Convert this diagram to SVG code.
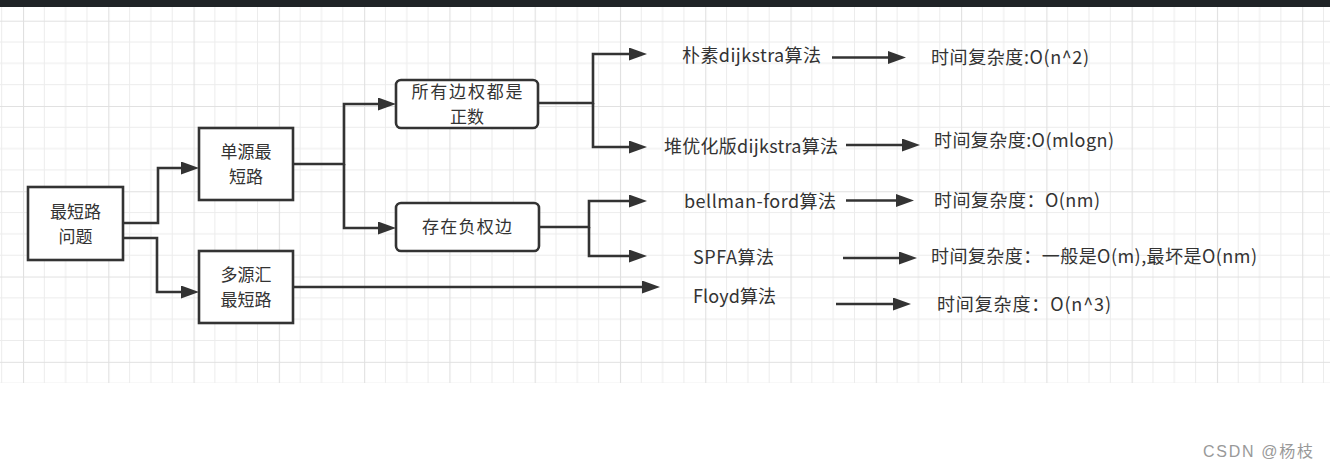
<svg xmlns="http://www.w3.org/2000/svg" width="1330" height="470" viewBox="0 0 1330 470">
<style>
.box{fill:#ffffff;stroke:#333333;stroke-width:2.6}
.t{font-family:"Noto Sans CJK SC","Liberation Sans",sans-serif;font-size:17px;fill:#333333;text-anchor:middle}
.l{font-family:"Noto Sans CJK SC","Liberation Sans",sans-serif;font-size:18px;fill:#333333;text-anchor:start}
.c{fill:none;stroke:#333333;stroke-width:2.6}
.mn{stroke:#ececec;stroke-width:1}
.mj{stroke:#e0e0e0;stroke-width:1.2}
</style>
<defs>
<marker id="ah" markerUnits="userSpaceOnUse" markerWidth="19" markerHeight="14" refX="0" refY="6.5" orient="auto">
<path d="M0,0 L18,6.5 L0,13 z" fill="#333333"/>
</marker>
<pattern id="grid" patternUnits="userSpaceOnUse" x="23" y="20.7" width="85.28" height="85.28">
<line class="mn" x1="21.32" y1="0" x2="21.32" y2="85.28"/>
<line class="mn" x1="42.64" y1="0" x2="42.64" y2="85.28"/>
<line class="mn" x1="63.96" y1="0" x2="63.96" y2="85.28"/>
<line class="mn" x1="0" y1="21.32" x2="85.28" y2="21.32"/>
<line class="mn" x1="0" y1="42.64" x2="85.28" y2="42.64"/>
<line class="mn" x1="0" y1="63.96" x2="85.28" y2="63.96"/>
<line class="mj" x1="0.5" y1="0" x2="0.5" y2="85.28"/>
<line class="mj" x1="0" y1="0.5" x2="85.28" y2="0.5"/>
</pattern>
</defs>
<rect x="0" y="0" width="1330" height="470" fill="#ffffff"/>
<rect x="0" y="7" width="1330" height="376" fill="url(#grid)"/>
<rect x="0" y="0" width="1330" height="7" fill="#1f2326"/>

<g id="connectors">
<path class="c" d="M123,223 H158 V168 H181" marker-end="url(#ah)"/>
<path class="c" d="M123,238 H157 V292 H181" marker-end="url(#ah)"/>
<path class="c" d="M293,164 H344 V104 H378" marker-end="url(#ah)"/>
<path class="c" d="M344,164 V228 H378" marker-end="url(#ah)"/>
<path class="c" d="M538,103 H593 V54 H629" marker-end="url(#ah)"/>
<path class="c" d="M593,103 V147 H629" marker-end="url(#ah)"/>
<path class="c" d="M530,227 H589 V201 H629" marker-end="url(#ah)"/>
<path class="c" d="M589,227 V256 H629" marker-end="url(#ah)"/>
<path class="c" d="M293,287 H642" marker-end="url(#ah)"/>
<path class="c" d="M832,57.5 H888" marker-end="url(#ah)"/>
<path class="c" d="M846,145 H902" marker-end="url(#ah)"/>
<path class="c" d="M846,200.5 H896" marker-end="url(#ah)"/>
<path class="c" d="M843,258 H899" marker-end="url(#ah)"/>
<path class="c" d="M836,304 H893" marker-end="url(#ah)"/>
</g>

<g id="n-root">
<rect class="box" x="28" y="187" width="95" height="73"/>
<text class="t" x="75.5" y="218">最短路</text>
<text class="t" x="75.5" y="243">问题</text>
</g>
<g id="n-single">
<rect class="box" x="199" y="128" width="94" height="72"/>
<text class="t" x="246" y="158">单源最</text>
<text class="t" x="246" y="183">短路</text>
</g>
<g id="n-multi">
<rect class="box" x="199" y="251" width="94" height="72"/>
<text class="t" x="246" y="281">多源汇</text>
<text class="t" x="246" y="306">最短路</text>
</g>
<g id="n-positive">
<rect class="box" x="396" y="80" width="142" height="48" rx="5"/>
<text class="t" x="467" y="98" textLength="111">所有边权都是</text>
<text class="t" x="467" y="123">正数</text>
</g>
<g id="n-negative">
<rect class="box" x="396" y="203" width="143" height="48" rx="5"/>
<text class="t" x="467" y="233" textLength="90">存在负权边</text>
</g>

<g id="n-dijkstra"><text class="l" x="682" y="62" textLength="139">朴素dijkstra算法</text></g>
<g id="n-heap"><text class="l" x="664" y="153" textLength="174">堆优化版dijkstra算法</text></g>
<g id="n-bellman"><text class="l" x="684" y="208" textLength="152">bellman-ford算法</text></g>
<g id="n-spfa"><text class="l" x="693" y="264" textLength="81">SPFA算法</text></g>
<g id="n-floyd"><text class="l" x="693" y="303" textLength="83">Floyd算法</text></g>

<g id="n-c1"><text class="l" x="931" y="64" textLength="158">时间复杂度:O(n^2)</text></g>
<g id="n-c2"><text class="l" x="934" y="147" textLength="180">时间复杂度:O(mlogn)</text></g>
<g id="n-c3"><text class="l" x="934" y="207" textLength="166">时间复杂度：O(nm)</text></g>
<g id="n-c4"><text class="l" x="931" y="263" textLength="326">时间复杂度：一般是O(m),最坏是O(nm)</text></g>
<g id="n-c5"><text class="l" x="937" y="311" textLength="174">时间复杂度：O(n^3)</text></g>

<text x="1203" y="457" font-family="'Liberation Sans','Noto Sans CJK SC',sans-serif" font-size="16" fill="#999999" textLength="110">CSDN @杨枝</text>
</svg>
